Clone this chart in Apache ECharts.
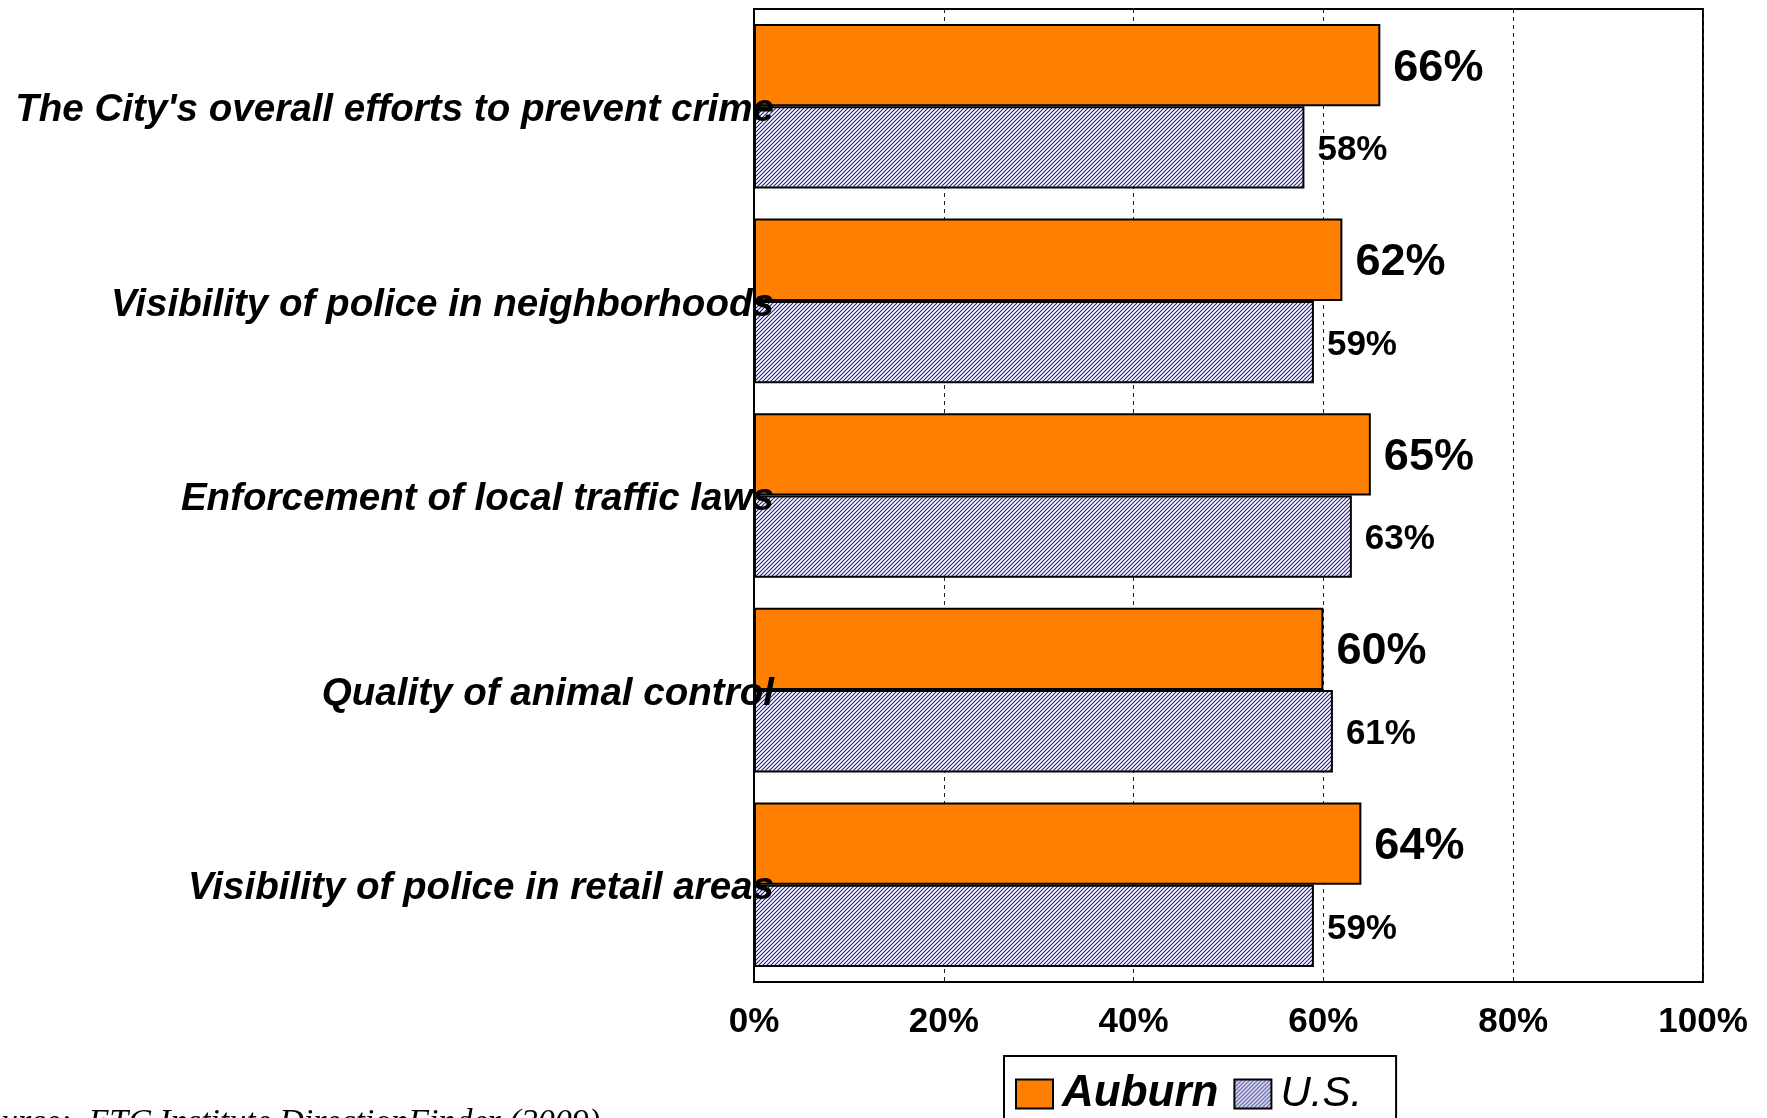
<!DOCTYPE html>
<html>
<head>
<meta charset="utf-8">
<script src="https://cdn.jsdelivr.net/npm/echarts@6/dist/echarts.min.js"></script>
<style>
  html, body { margin: 0; padding: 0; background: #fff; }
  #chart { width: 1767px; height: 1118px; }
</style>
</head>
<body>
<div id="chart"></div>
<script>
// Satisfaction with public safety services: Auburn vs. U.S. average
const categories = [
  "The City's overall efforts to prevent crime",
  "Visibility of police in neighborhoods",
  "Enforcement of local traffic laws",
  "Quality of animal control",
  "Visibility of police in retail areas"
];
const auburnValues = [66, 62, 65, 60, 64];
const usValues = [58, 59, 63, 61, 59];
const xTicks = [0, 20, 40, 60, 80, 100];
const seriesNames = ['Auburn', 'U.S.'];
const sourceNote = 'Source:  ETC Institute DirectionFinder (2009)';

// Diagonal navy hatch used for the U.S. bars
function makeHatch() {
  const c = document.createElement('canvas');
  c.width = 4; c.height = 4;
  const g = c.getContext('2d');
  g.fillStyle = '#ffffff';
  g.fillRect(0, 0, 4, 4);
  g.strokeStyle = '#20208a';
  g.lineWidth = 1.1;
  g.beginPath();
  g.moveTo(-1, 5); g.lineTo(5, -1);
  g.moveTo(-1, 1); g.lineTo(1, -1);
  g.moveTo(3, 5); g.lineTo(5, 3);
  g.stroke();
  return c;
}
const hatch = { image: makeHatch(), repeat: 'repeat' };

const FONT = 'Arial, "Liberation Sans", sans-serif';

const chart = echarts.init(document.getElementById('chart'), null, { renderer: 'canvas' });

chart.setOption({
  backgroundColor: '#ffffff',
  animation: false,
  grid: {
    left: 754, right: 64, top: 9, bottom: 136,
    show: true, borderColor: '#000', borderWidth: 2, backgroundColor: 'transparent'
  },
  xAxis: {
    type: 'value',
    min: xTicks[0], max: xTicks[xTicks.length - 1], interval: 20,
    axisLine: { show: true, lineStyle: { color: '#000', width: 2 } },
    axisTick: { show: false },
    splitLine: { show: true, lineStyle: { color: '#222', width: 1, type: [4, 4] } },
    axisLabel: {
      formatter: '{value}%', color: '#000', fontFamily: FONT,
      fontWeight: 'bold', fontSize: 35, margin: 23
    }
  },
  yAxis: {
    type: 'category',
    data: categories,
    inverse: true,
    z: 10,
    axisLine: { show: true, lineStyle: { color: '#000', width: 2 } },
    axisTick: { show: false },
    axisLabel: {
      margin: -20,
      formatter: (v) => '{cat|' + v + '}',
      rich: {
        cat: {
          color: '#000', fontFamily: FONT, fontStyle: 'italic', fontWeight: 'bold',
          fontSize: 38.6, padding: [8, 0, 0, 0]
        }
      }
    }
  },
  legend: {
    left: 1004, top: 1056,
    orient: 'horizontal',
    padding: [16, 34, 20, 11],
    itemGap: 15, itemWidth: 37, itemHeight: 29,
    borderColor: '#000', borderWidth: 2, backgroundColor: '#fff',
    icon: 'rect',
    itemStyle: { borderColor: '#000', borderWidth: 2 },
    data: [
      { name: seriesNames[0], textStyle: { fontSize: 44, fontWeight: 'bold', fontStyle: 'italic', color: '#000', fontFamily: FONT, padding: [0, 0, 0, 4] } },
      { name: seriesNames[1], textStyle: { fontSize: 42, fontWeight: 'normal', fontStyle: 'italic', color: '#000', fontFamily: FONT, padding: [0, 0, 0, 4] } }
    ]
  },
  graphic: [{
    type: 'text', left: -33, top: 1106, silent: true,
    style: {
      text: sourceNote, fill: '#000',
      font: 'italic 34px "Liberation Serif", "Times New Roman", serif'
    }
  }],
  series: [
    {
      name: seriesNames[0], type: 'bar', data: auburnValues,
      barGap: '0%', barCategoryGap: '15.4%',
      itemStyle: { color: '#ff8000', borderColor: '#000', borderWidth: 2 },
      label: {
        show: true, position: 'right', distance: 13, offset: [0, 3], formatter: '{c}%',
        color: '#000', fontFamily: FONT, fontWeight: 'bold', fontSize: 45
      }
    },
    {
      name: seriesNames[1], type: 'bar', data: usValues,
      barGap: '0%', barCategoryGap: '15.4%',
      itemStyle: { color: hatch, borderColor: '#000', borderWidth: 2 },
      label: {
        show: true, position: 'right', distance: 13, offset: [0, 3], formatter: '{c}%',
        color: '#000', fontFamily: FONT, fontWeight: 'bold', fontSize: 35
      }
    }
  ]
});
</script>
</body>
</html>
